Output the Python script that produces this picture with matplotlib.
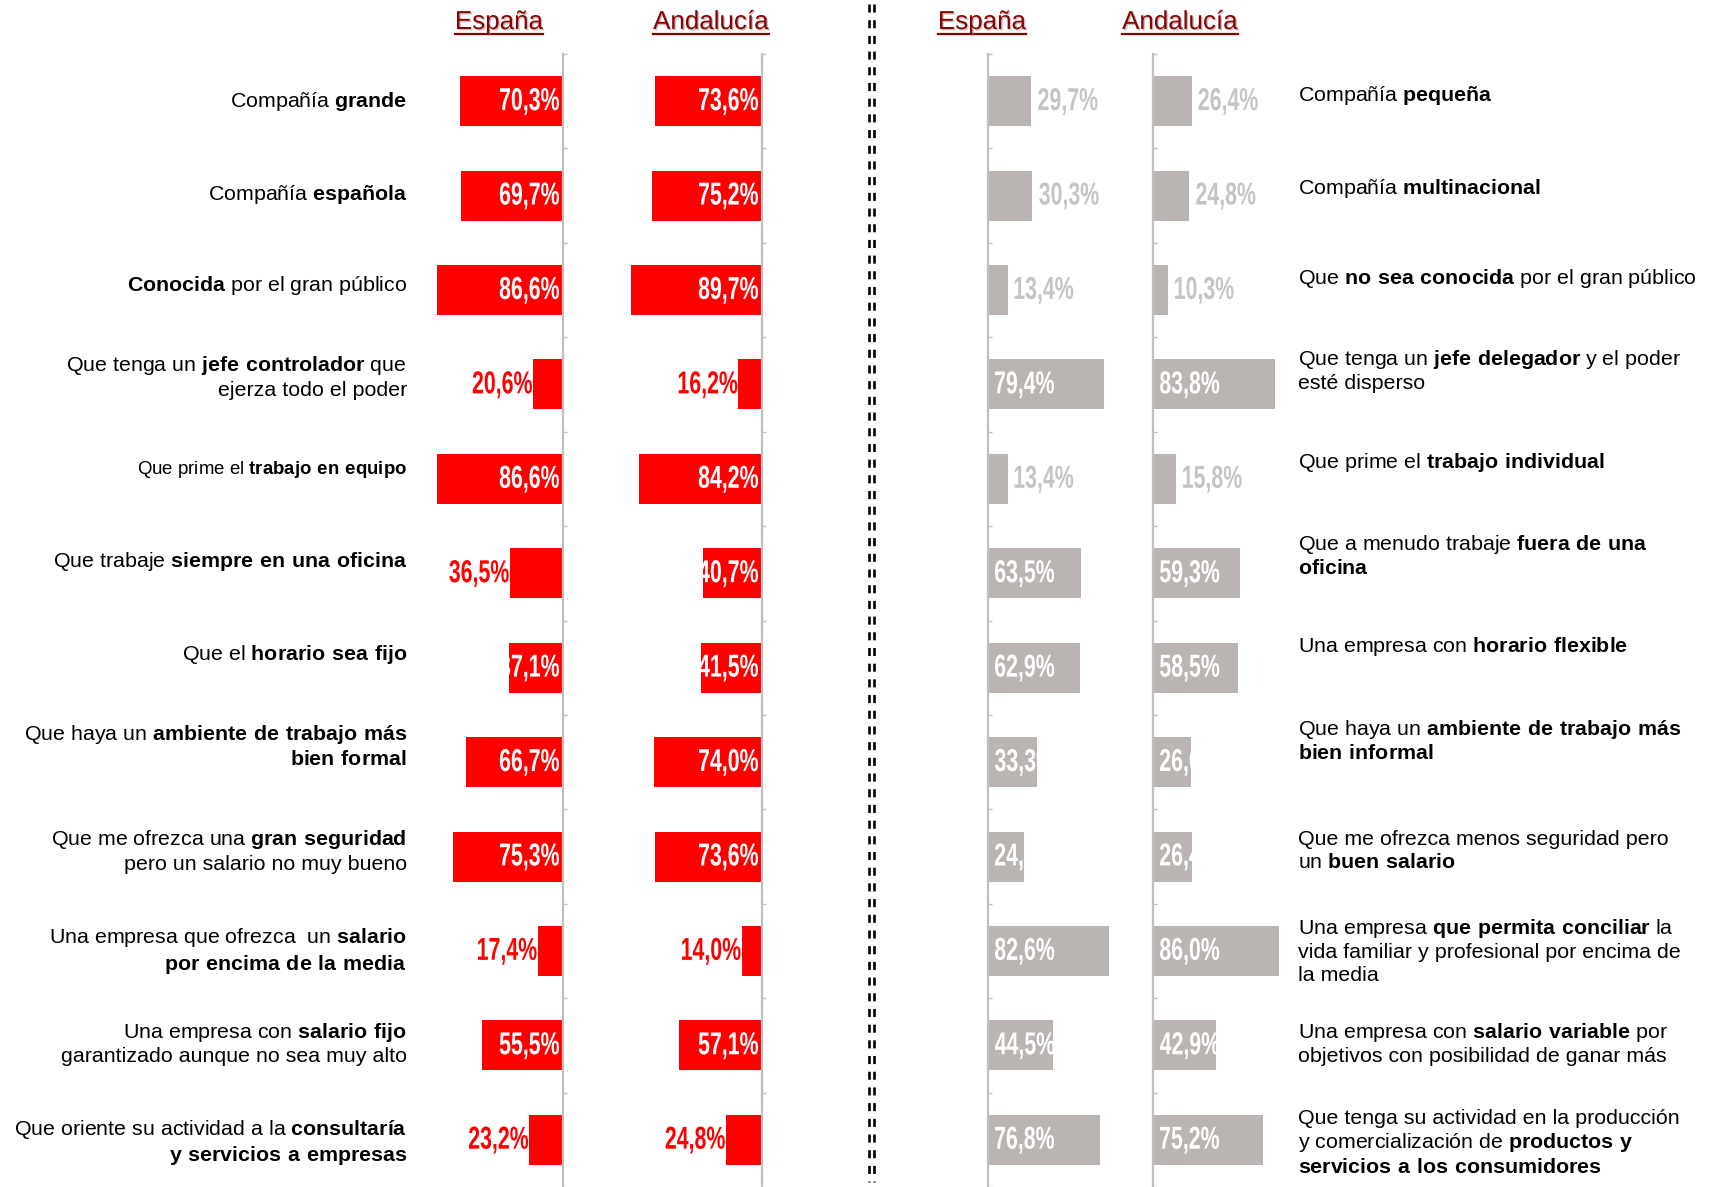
import matplotlib
matplotlib.use("Agg")
import matplotlib.pyplot as plt
import matplotlib.patheffects as pe
from matplotlib.lines import Line2D
from matplotlib.patches import PathPatch
from matplotlib.textpath import TextPath
from matplotlib.font_manager import FontProperties
from matplotlib.transforms import Affine2D, ScaledTranslation
import numpy as np

plt.rcParams['font.family'] = ['Liberation Sans', 'DejaVu Sans']
plt.rcParams['mathtext.fontset'] = 'custom'
plt.rcParams['mathtext.rm'] = 'Liberation Sans'
plt.rcParams['mathtext.bf'] = 'Liberation Sans:bold'
plt.rcParams['lines.scale_dashes'] = False

# ---- data ----
headers = ["España", "Andalucía"]

left_labels = [
    ["Compañía **grande**"],
    ["Compañía **española**"],
    ["**Conocida** por el gran público"],
    ["Que tenga un **jefe controlador** que", "ejerza todo el poder"],
    ["Que prime el **trabajo en equipo**"],
    ["Que trabaje **siempre en una oficina**"],
    ["Que el **horario sea fijo**"],
    ["Que haya un **ambiente de trabajo más**", "**bien formal**"],
    ["Que me ofrezca una **gran seguridad**", "pero un salario no muy bueno"],
    ["Una empresa que ofrezca  un **salario**", "**por encima de la media**"],
    ["Una empresa con **salario fijo**", "garantizado aunque no sea muy alto"],
    ["Que oriente su actividad a la **consultaría**", "**y servicios a empresas**"],
]
right_labels = [
    ["Compañía **pequeña**"],
    ["Compañía **multinacional**"],
    ["Que **no sea conocida** por el gran público"],
    ["Que tenga un **jefe delegador** y el poder", "esté disperso"],
    ["Que prime el **trabajo individual**"],
    ["Que a menudo trabaje **fuera de una**", "**oficina**"],
    ["Una empresa con **horario flexible**"],
    ["Que haya un **ambiente de trabajo más**", "**bien informal**"],
    ["Que me ofrezca menos seguridad pero", "un **buen salario**"],
    ["Una empresa **que permita conciliar** la", "vida familiar y profesional por encima de", "la media"],
    ["Una empresa con **salario variable** por", "objetivos con posibilidad de ganar más"],
    ["Que tenga su actividad en la producción", "y comercialización de **productos y**", "**servicios a los consumidores**"],
]

espana_left = [70.3, 69.7, 86.6, 20.6, 86.6, 36.5, 37.1, 66.7, 75.3, 17.4, 55.5, 23.2]
andalucia_left = [73.6, 75.2, 89.7, 16.2, 84.2, 40.7, 41.5, 74.0, 73.6, 14.0, 57.1, 24.8]
espana_right = [29.7, 30.3, 13.4, 79.4, 13.4, 63.5, 62.9, 33.3, 24.7, 82.6, 44.5, 76.8]
andalucia_right = [26.4, 24.8, 10.3, 83.8, 15.8, 59.3, 58.5, 26.0, 26.4, 86.0, 42.9, 75.2]

# ---- style / layout ----
RED = "#FF0000"
GREY = "#BAB5B2"
GREY_TXT = "#C4C4C4"
AXIS = "#BFBFBF"
HEAD = "#8B0000"
right_inside = [False, False, False, True, False, True, True, True, True, True, True, True]
left_dy = [0, -0.01, -0.05, -0.08, -0.10, -0.13, -0.14, -0.17, -0.06, 0, -0.02, 0.03]
right_dy = [-0.06, -0.08, -0.12, -0.15, -0.17, -0.19, -0.22, -0.23, -0.06, 0, -0.02, 0.03]

W, H = 1709, 1187
TOP, BOT = 54, 1187
SPAN = 146  # px for 100 %

# condensed bold look for the value labels: scaled text paths
VAL_PROP = FontProperties(family="Liberation Sans", weight="bold")
_ref = TextPath((0, 0), "70,3%", size=1, prop=VAL_PROP).get_extents()
_dig = TextPath((0, 0), "0123456789", size=1, prop=VAL_PROP).get_extents()
SX = 59.0 / _ref.width
SY = 22.5 / _dig.height
DIG_MID = (_dig.y0 + _dig.y1) / 2


def fx(px):
    return px / W


def fy(py):
    return 1 - py / H


def to_math(line):
    parts = line.split("**")
    out = ""
    for k, p in enumerate(parts):
        if k % 2 == 1:
            out += r"$\mathbf{" + p.replace(" ", r"\ ") + "}$"
        else:
            out += p
    return out


def fmt(v):
    return f"{v:.1f}%".replace(".", ",")


def value_label(ax, s, x, y, align, pad, color, clip=None):
    tp = TextPath((0, 0), s, size=1, prop=VAL_PROP)
    ext = tp.get_extents()
    if align == "right":
        dx = -pad - ext.x1 * SX
    else:
        dx = pad - ext.x0 * SX
    dy = -DIG_MID * SY + 2
    tr = Affine2D().scale(SX, SY).translate(dx, dy) + ScaledTranslation(x, y, ax.transData)
    p = PathPatch(tp, transform=tr, facecolor=color, edgecolor="none", lw=0)
    ax.add_artist(p)
    if clip is not None:
        p.set_clip_on(True)
        p.set_clip_path(clip)
    else:
        p.set_clip_on(False)


fig = plt.figure(figsize=(W / 100, H / 100), dpi=100)
n = len(espana_left)
rows = np.arange(n)


def make_axes(x_line, side):
    if side == "left":
        rect = [fx(x_line - SPAN), fy(BOT), SPAN / W, (BOT - TOP) / H]
    else:
        rect = [fx(x_line), fy(BOT), SPAN / W, (BOT - TOP) / H]
    ax = fig.add_axes(rect)
    ax.set_ylim(n - 0.5, -0.5)
    if side == "left":
        ax.set_xlim(100, 0)
    else:
        ax.set_xlim(0, 100)
    for s in ["top", "bottom", "left", "right"]:
        ax.spines[s].set_visible(False)
    sp = "right" if side == "left" else "left"
    ax.spines[sp].set_visible(True)
    ax.spines[sp].set_color(AXIS)
    ax.spines[sp].set_linewidth(1.6)
    ax.set_xticks([])
    ax.set_yticks(np.arange(n + 1) - 0.5)
    ax.set_yticklabels([])
    if side == "left":
        ax.yaxis.tick_right()
        ax.tick_params(axis="y", direction="out", length=3, color=AXIS, width=1)
    else:
        ax.yaxis.tick_left()
        ax.tick_params(axis="y", direction="in", length=3, color=AXIS, width=1)
    ax.patch.set_visible(False)
    return ax


def left_panel(x_line, vals):
    ax = make_axes(x_line, "left")
    bars = ax.barh(rows, vals, height=0.53, color=RED)
    for i, (b, v) in enumerate(zip(bars, vals)):
        if v >= 37:
            value_label(ax, fmt(v), 0, i, "right", 4, "white", clip=b)
        else:
            value_label(ax, fmt(v), v, i, "right", 1, RED)
    return ax


def right_panel(x_line, vals):
    ax = make_axes(x_line, "right")
    bars = ax.barh(rows, vals, height=0.53, color=GREY)
    for i, (b, v) in enumerate(zip(bars, vals)):
        if right_inside[i]:
            value_label(ax, fmt(v), 0, i, "left", 7, "white", clip=b)
        else:
            value_label(ax, fmt(v), v, i, "left", 7, GREY_TXT)
    return ax


left_panel(563, espana_left)
left_panel(762, andalucia_left)
right_panel(988, espana_right)
right_panel(1153, andalucia_right)

row_px = (BOT - TOP) / n
for i in range(n):
    yc = TOP + row_px * (i + 0.5 + left_dy[i])
    size = 13.4 if i == 4 else 15.4
    fig.text(fx(407), fy(yc), "\n".join(to_math(l) for l in left_labels[i]),
             ha="right", va="center", multialignment="right", fontsize=size,
             linespacing=1.22, color="black")
    yc = TOP + row_px * (i + 0.5 + right_dy[i])
    fig.text(fx(1298), fy(yc), "\n".join(to_math(l) for l in right_labels[i]),
             ha="left", va="center", multialignment="left", fontsize=15.4,
             linespacing=1.22, color="black")

# headers, underlined
head_pos = [(499, headers[0]), (711, headers[1]), (982, headers[0]), (1180, headers[1])]
head_txt = []
for x, s in head_pos:
    t = fig.text(fx(x), fy(29), s, ha="center", va="baseline", fontsize=18.7, color=HEAD,
                 path_effects=[pe.SimplePatchShadow(offset=(1, -1), shadow_rgbFace="#888888", alpha=0.5),
                               pe.Normal()])
    head_txt.append(t)
fig.canvas.draw()
r = fig.canvas.get_renderer()
for t in head_txt:
    bb = t.get_window_extent(renderer=r)
    fig.add_artist(Line2D([bb.x0 / W, bb.x1 / W], [fy(33.5), fy(33.5)], lw=1.6, color=HEAD))

# dashed separator (double)
for x in (868.7, 873.8):
    fig.add_artist(Line2D([fx(x), fx(x)], [fy(4), fy(1182)], lw=1.9, color="black",
                          dashes=(5.8, 5.5)))

fig.savefig("out.png", dpi=100)
